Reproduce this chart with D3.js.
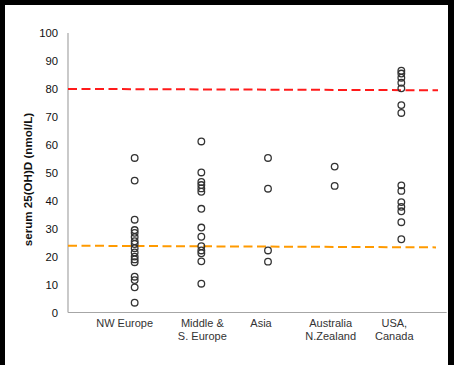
<!DOCTYPE html>
<html>
<head>
<meta charset="utf-8">
<script src="https://cdn.jsdelivr.net/npm/d3@7"></script>
<style>
  html, body { margin: 0; padding: 0; background: #000; }
  svg { display: block; }
</style>
</head>
<body>
<div id="chart"></div>
<script>
// Regions (two-line labels) and serum 25(OH)D measurements per region, nmol/L
const regions = [
  ["NW Europe"],
  ["Middle &", "S. Europe"],
  ["Asia"],
  ["Australia", "N.Zealand"],
  ["USA,", "Canada"]
];
const nwEurope = [55.3, 47.2, 33.2, 29.5, 28.5, 27, 25.5, 24.5, 23, 21.5, 20, 19, 18, 12.8, 11.6, 9, 3.5];
const midSEurope = [61.2, 50.1, 46.7, 45.6, 44.4, 43.2, 37.1, 30.4, 27.1, 23.7, 22.2, 21.2, 18.3, 10.3];
const asia = [55.3, 44.3, 22.2, 18.2];
const ausNz = [52.2, 45.3];
const usaCanada = [86.5, 85.5, 84, 82.2, 80.2, 74.2, 71.4, 45.5, 43.5, 39.5, 37.8, 36.2, 32.3, 26.2];
const yTicks = [0, 10, 20, 30, 40, 50, 60, 70, 80, 90, 100];
// Reference thresholds (start / end level of each dashed line)
const upperLine = [80.0, 79.5];
const lowerLine = [23.9, 23.3];

const series = [nwEurope, midSEurope, asia, ausNz, usaCanada];

const W = 454, H = 365;
const svg = d3.select("#chart").append("svg")
  .attr("width", W).attr("height", H);

// white panel inside the dark frame
svg.append("rect").attr("x", 5).attr("y", 5)
  .attr("width", 443).attr("height", H - 5).attr("fill", "#fff");

const x = d3.scaleLinear().domain([0, 5.7]).range([68, 448]);
const y = d3.scaleLinear().domain([0, 100]).range([312.5, 33]);

const font = "'Liberation Sans', Arial, sans-serif";

// axes
svg.append("line")
  .attr("x1", x(0)).attr("x2", x(0))
  .attr("y1", y(100)).attr("y2", y(0))
  .attr("stroke", "#a6a6a6").attr("stroke-width", 1.2);
svg.append("line")
  .attr("x1", x(0)).attr("x2", x(5.68))
  .attr("y1", y(0)).attr("y2", y(0))
  .attr("stroke", "#a6a6a6").attr("stroke-width", 1.2);

// y tick labels
svg.append("g").selectAll("text").data(yTicks).join("text")
  .attr("x", 58).attr("y", d => y(d))
  .attr("dy", "0.36em")
  .attr("text-anchor", "end")
  .attr("font-family", font).attr("font-size", 11.3)
  .attr("fill", "#111")
  .text(d => d);

// y axis title
svg.append("text")
  .attr("transform", `translate(32,${179.5}) rotate(-90)`)
  .attr("text-anchor", "middle")
  .attr("font-family", font).attr("font-size", 11.6)
  .attr("font-weight", "bold")
  .attr("fill", "#111")
  .text("serum 25(OH)D (nmol/L)");

// category labels, nudged slightly as laid out
const labelNudge = [-10, 1, -7, -4, -7];
const lab = svg.append("g").selectAll("text").data(regions).join("text")
  .attr("x", (d, i) => x(i + 1) + labelNudge[i])
  .attr("y", 327)
  .attr("text-anchor", "middle")
  .attr("font-family", font).attr("font-size", 11)
  .attr("fill", "#333");
lab.selectAll("tspan").data(d => d).join("tspan")
  .attr("x", function() { return this.parentNode.getAttribute("x"); })
  .attr("dy", (d, j) => j === 0 ? 0 : 13)
  .text(d => d);

// dashed reference lines
const lineGen = d3.line().x(d => x(d[0])).y(d => y(d[1]));
svg.append("path")
  .attr("d", lineGen([[0, upperLine[0]], [5.55, upperLine[1]]]))
  .attr("fill", "none").attr("stroke", "#ff1a1a")
  .attr("stroke-width", 2).attr("stroke-dasharray", "9,4.5");
svg.append("path")
  .attr("d", lineGen([[0, lowerLine[0]], [5.52, lowerLine[1]]]))
  .attr("fill", "none").attr("stroke", "#ff9a00")
  .attr("stroke-width", 2).attr("stroke-dasharray", "9,4.5");

// measurement points
const pts = series.flatMap((vals, i) => vals.map(v => ({ i: i + 1, v })));
svg.append("g").selectAll("circle").data(pts).join("circle")
  .attr("cx", d => x(d.i))
  .attr("cy", d => y(d.v))
  .attr("r", 3.3)
  .attr("fill", "none")
  .attr("stroke", "#333")
  .attr("stroke-width", 1.3);
</script>
</body>
</html>
